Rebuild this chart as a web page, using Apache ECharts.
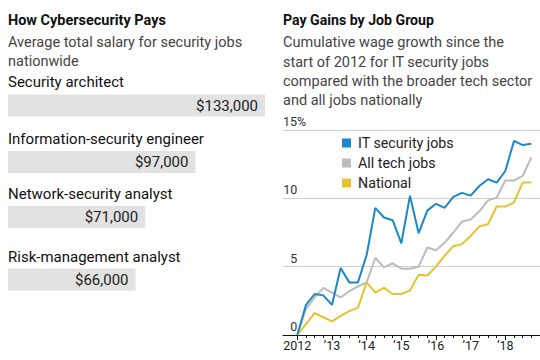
<!DOCTYPE html>
<html><head><meta charset="utf-8">
<script src="https://cdn.jsdelivr.net/npm/echarts@6/dist/echarts.min.js"></script>
<style>html,body{margin:0;padding:0;background:#fff}#c{width:540px;height:360px}</style>
</head><body><div id="c"></div>
<script>
const jobTitles = ['Security architect', 'Information-security engineer', 'Network-security analyst', 'Risk-management analyst'];
const salaries = [133000, 97000, 71000, 66000];

const periods = [2012, 2012.25, 2012.5, 2012.75, 2013, 2013.25, 2013.5, 2013.75,
  2014, 2014.25, 2014.5, 2014.75, 2015, 2015.25, 2015.5, 2015.75,
  2016, 2016.25, 2016.5, 2016.75, 2017, 2017.25, 2017.5, 2017.75,
  2018, 2018.25, 2018.5, 2018.75];
const itSecurity = [0, 2.2, 3.0, 2.9, 2.2, 4.9, 3.85, 3.85, 5.85, 9.3, 8.6, 8.4, 6.7, 10.2, 7.45, 9.1,
  9.6, 9.3, 10.1, 10.4, 10.2, 10.9, 11.4, 11.15, 12.0, 14.2, 13.9, 14.0];
const allTech = [0, 1.9, 2.75, 3.45, 3.1, 2.75, 3.2, 3.55, 3.85, 5.65, 4.95, 5.25, 4.85, 4.85, 5.0, 6.4,
  6.2, 6.75, 7.5, 8.3, 8.45, 9.05, 9.85, 10.05, 11.3, 11.3, 11.65, 13.0];
const national = [0, 0.8, 1.6, 1.3, 1.0, 1.4, 1.75, 2.0, 3.85, 3.1, 3.45, 3.0, 3.0, 3.25, 4.4, 4.35,
  5.0, 5.8, 6.5, 6.65, 7.25, 7.95, 8.1, 9.4, 9.4, 9.7, 11.15, 11.15];
const seriesNames = ['IT security jobs', 'All tech jobs', 'National'];
const yTicks = [0, 5, 10, 15];

const leftTitle = 'How Cybersecurity Pays';
const leftSubtitle = ['Average total salary for security jobs', 'nationwide'];
const rightTitle = 'Pay Gains by Job Group';
const rightSubtitle = ['Cumulative wage growth since the', 'start of 2012 for IT security jobs',
  'compared with the broader tech sector', 'and all jobs nationally'];

const FONT = "Roboto, 'Liberation Sans', sans-serif";
const colors = { 'IT security jobs': '#1c87c9', 'All tech jobs': '#bcbcbc', 'National': '#e9c12e' };

// size a font so a text spans the width it has in the reference
const ctx = document.createElement('canvas').getContext('2d');
function fitSize(text, weight, targetWidth) {
  ctx.font = weight + ' 100px ' + FONT;
  const w = ctx.measureText(text).width;
  return Math.max(10, Math.min(18, 100 * targetWidth / w));
}
const leftTitleSize = fitSize(leftTitle, 'bold', 158);
const rightTitleSize = fitSize(rightTitle, 'bold', 151);
const subSize = (fitSize(leftSubtitle[0], 'normal', 232) + fitSize(rightSubtitle[2], 'normal', 252)) / 2;
const legendSize = fitSize(seriesNames[0], 'normal', 96);

const barCenters = [105.5, 162, 217, 279.5];
const labelCenters = [81.7, 139, 194, 256.7];

const grids = [], xAxes = [], yAxes = [], series = [], titles = [];

// Left panel texts
titles.push({ text: leftTitle, left: 8, top: 10, padding: 0,
  textStyle: { fontFamily: FONT, fontSize: leftTitleSize, fontWeight: 'bold', color: '#111', lineHeight: 20 } });
titles.push({ text: leftSubtitle.join('\n'), left: 8, top: 32.5, padding: 0,
  textStyle: { fontFamily: FONT, fontSize: subSize, fontWeight: 'normal', color: '#444', lineHeight: 19 } });
jobTitles.forEach((t, i) => {
  titles.push({ text: t, left: 8, top: labelCenters[i] - 10, padding: 0,
    textStyle: { fontFamily: FONT, fontSize: 15, fontWeight: 'normal', color: '#111', lineHeight: 20 } });
});
// Right panel texts
titles.push({ text: rightTitle, left: 283, top: 10, padding: 0,
  textStyle: { fontFamily: FONT, fontSize: rightTitleSize, fontWeight: 'bold', color: '#111', lineHeight: 20 } });
titles.push({ text: rightSubtitle.join('\n'), left: 283, top: 33.3, padding: 0,
  textStyle: { fontFamily: FONT, fontSize: subSize, fontWeight: 'normal', color: '#444', lineHeight: 19.3 } });

// Bars: one grid per job
salaries.forEach((v, i) => {
  grids.push({ left: 8, width: 257, top: barCenters[i] - 11, height: 22 });
  xAxes.push({ type: 'value', gridIndex: i, min: 0, max: salaries[0], show: false });
  yAxes.push({ type: 'category', gridIndex: i, data: [jobTitles[i]], show: false });
  series.push({ type: 'bar', xAxisIndex: i, yAxisIndex: i, data: [v], barWidth: 22,
    itemStyle: { color: '#e2e2e2' }, silent: true,
    label: { show: true, position: 'insideRight', distance: 7, fontFamily: FONT, fontSize: 15, color: '#222',
      formatter: p => '$' + p.value.toLocaleString('en-US') } });
});

// Line chart: grid A (gridlines, axis line), grid B (data, ticks)
const gA = grids.length;
grids.push({ left: 283, right: -6, top: 130, height: 205 });
xAxes.push({ type: 'value', gridIndex: gA, min: 0, max: 1, axisLine: { show: true, lineStyle: { color: '#111', width: 1 } },
  axisTick: { show: false }, axisLabel: { show: false }, splitLine: { show: false } });
yAxes.push({ type: 'value', gridIndex: gA, min: 0, max: 15, interval: 5,
  axisLine: { show: false }, axisTick: { show: false },
  splitLine: { show: true, lineStyle: { color: '#cfcfcf', width: 1 } },
  axisLabel: { inside: true, margin: 0, verticalAlign: 'bottom', padding: [0, 0, 2, 0], fontFamily: FONT, fontSize: 12.5, color: '#333',
    formatter: v => v === yTicks[3] ? v + '%' : '' } });
const gB = grids.length;
grids.push({ left: 297.3, width: 247.3, top: 130, height: 205 });
xAxes.push({ type: 'value', gridIndex: gB, min: 2012, max: 2019, interval: 1,
  axisLine: { show: false },
  axisTick: { show: true, length: 5, lineStyle: { color: '#111' } },
  minorTick: { show: true, splitNumber: 4, length: 3, lineStyle: { color: '#111' } },
  splitLine: { show: false },
  axisLabel: { margin: 4, fontFamily: FONT, fontSize: 12.5, color: '#222', showMaxLabel: false,
    formatter: v => v === 2012 ? '2012' : (v >= 2019 ? '' : '\u2019' + String(v).slice(2)) } });
yAxes.push({ type: 'value', gridIndex: gB, min: 0, max: 15, interval: 5,
  axisLine: { show: false }, axisTick: { show: false }, splitLine: { show: false },
  axisLabel: { margin: 0, verticalAlign: 'bottom', padding: [0, 0, 2, 0], fontFamily: FONT, fontSize: 12.5, color: '#333',
    formatter: v => v === yTicks[3] ? '' : String(v) } });

const lineData = { 'IT security jobs': itSecurity, 'All tech jobs': allTech, 'National': national };
['National', 'All tech jobs', 'IT security jobs'].forEach(name => {
  series.push({ type: 'line', name, xAxisIndex: xAxes.length - 1, yAxisIndex: yAxes.length - 1,
    data: periods.map((p, i) => [p, lineData[name][i]]), showSymbol: false, symbol: 'none',
    lineStyle: { color: colors[name], width: 2 }, itemStyle: { color: colors[name] }, silent: true });
});

const chart = echarts.init(document.getElementById('c'), null, { renderer: 'svg' });
chart.setOption({
  animation: false,
  backgroundColor: '#fff',
  title: titles,
  grid: grids, xAxis: xAxes, yAxis: yAxes, series,
  legend: { data: seriesNames, orient: 'vertical', left: 342, top: 135.5, padding: 0, itemGap: 5,
    icon: 'rect', itemWidth: 9, itemHeight: 9, selectedMode: false,
    textStyle: { fontFamily: FONT, fontSize: legendSize, color: '#222', lineHeight: 15, padding: [0, 0, 0, 2] } }
});
</script></body></html>
